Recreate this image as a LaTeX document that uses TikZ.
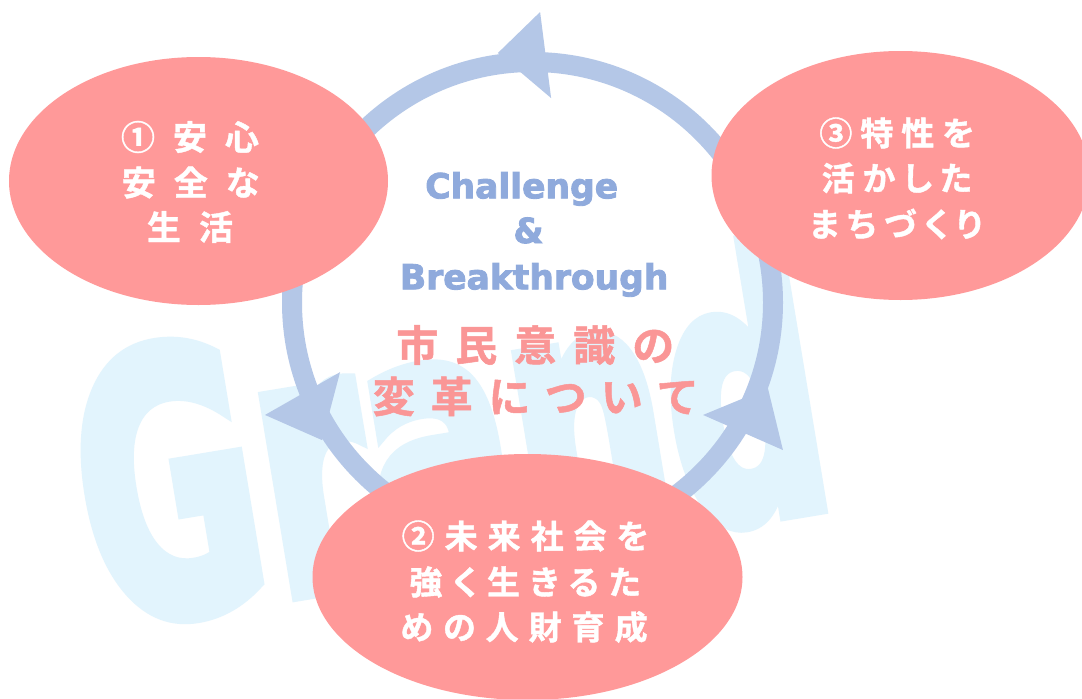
\documentclass[tikz,border=0pt]{standalone}
\usepackage{fontspec}
\usetikzlibrary{shapes.geometric}
\IfFontExistsTF{Noto Sans CJK JP Bold}
  {\newfontfamily\jpfont{Noto Sans CJK JP Bold}[RawFeature=+palt,FakeBold=1.2]}
  {\newfontfamily\jpfont{Noto Sans CJK JP}[RawFeature=+palt,FakeBold=3]}
\newfontfamily\enfont{DejaVu Sans}[BoldFeatures={FakeBold=2.5}]
\newfontfamily\wmfont{DejaVu Sans}[BoldFeatures={FakeBold=4.5}]
\definecolor{pinkfill}{HTML}{FF9999}
\definecolor{ringblue}{HTML}{B4C7E7}
\definecolor{textblue}{HTML}{8FAADC}
\definecolor{wmblue}{HTML}{E2F4FD}
\definecolor{pinktext}{HTML}{FA9696}
\newcommand\sk[1]{\hspace*{#1pt}}
\begin{document}
\begin{tikzpicture}[x=1pt,y=-1pt,
  blob/.style={ellipse, fill=pinkfill, draw=none, inner sep=0pt},
  ringline/.style={draw=ringblue, line width=20pt},
  headfill/.style={fill=ringblue},
  wmtext/.style={text=wmblue, inner sep=0pt, font=\wmfont\bfseries\fontsize{360}{370}\selectfont},
  ltext/.style={text=white, inner sep=0pt, font=\jpfont\fontsize{34}{40}\selectfont},
  rtext/.style={text=white, inner sep=0pt, font=\jpfont\fontsize{33}{40}\selectfont},
  btext/.style={text=white, inner sep=0pt, font=\jpfont\fontsize{33}{40}\selectfont},
  ctext/.style={text=pinktext, inner sep=0pt, font=\jpfont\fontsize{42}{48}\selectfont},
  etext/.style={text=textblue, inner sep=0pt, anchor=base, font=\enfont\bfseries\fontsize{34.5}{40}\selectfont}
]
\useasboundingbox (0,0) rectangle (1082,699);
\fill[white] (0,0) rectangle (1082,699);
\clip (0,0) rectangle (1082,699);
% watermark
\begin{scope}[shift={(100,626)}]
\node[wmtext, anchor=base west, rotate=9.4, xscale=0.61] (wm) at (0,0) {Grand};
\end{scope}
% cycle ring
\coordinate (C) at (532.5,302.5);
\draw[ringline] (C) circle[radius=240.5];
\begin{scope}[shift={(C)}, yscale=-1]
\fill[headfill] (88.5:290.6) -- (97.9:251.9) -- (84.8:205.3) -- cycle;
\fill[headfill] (202.8:290.2) -- (213.2:251.4) -- (199.9:204.7) -- cycle;
\fill[headfill] (329.5:290.7) -- (340:250.5) -- (326.6:204.3) -- cycle;
\end{scope}
% ellipses
\node[blob, minimum width=379pt, minimum height=248pt] (e1) at (198.5,181) {};
\node[blob, minimum width=378pt, minimum height=249pt] (e3) at (900.5,175.5) {};
\node[blob, minimum width=430pt, minimum height=246pt] (e2) at (527.5,577) {};
% left ellipse text
\node[ltext] (l1) at (190,137) {①\sk{18}安\sk{18}心};
\node[ltext] (l2) at (190.5,182.5) {安\sk{18}全\sk{18}な};
\node[ltext] (l3) at (190,227) {生\sk{18}活};
% right ellipse text
\node[rtext] (r1) at (896.7,133) {③\sk{8}特\sk{8}性\sk{8}を};
\node[rtext] (r2) at (896.7,178) {活\sk{8}か\sk{8}し\sk{8}た};
\node[rtext] (r3) at (896,224) {ま\sk{8}ち\sk{8}づ\sk{8}く\sk{8}り};
% bottom ellipse text
\node[btext] (b1) at (525,536) {②\sk{10}未\sk{10}来\sk{10}社\sk{10}会\sk{10}を};
\node[btext] (b2) at (525,582) {強\sk{10}く\sk{10}生\sk{10}き\sk{10}る\sk{10}た};
\node[btext] (b3) at (524,627) {め\sk{10}の\sk{10}人\sk{10}財\sk{10}育\sk{10}成};
% centre text
\node[etext] (t1) at (521.7,198.3) {Challenge};
\node[etext] (t2) at (528.5,243) {\&};
\node[etext] (t3) at (534.2,289.3) {Breakthrough};
\node[ctext] (c1) at (535,345) {市\sk{17}民\sk{17}意\sk{17}識\sk{17}の};
\node[ctext] (c2) at (534,396.5) {変\sk{16}革\sk{16}に\sk{16}つ\sk{16}い\sk{16}て};
\end{tikzpicture}
\end{document}
